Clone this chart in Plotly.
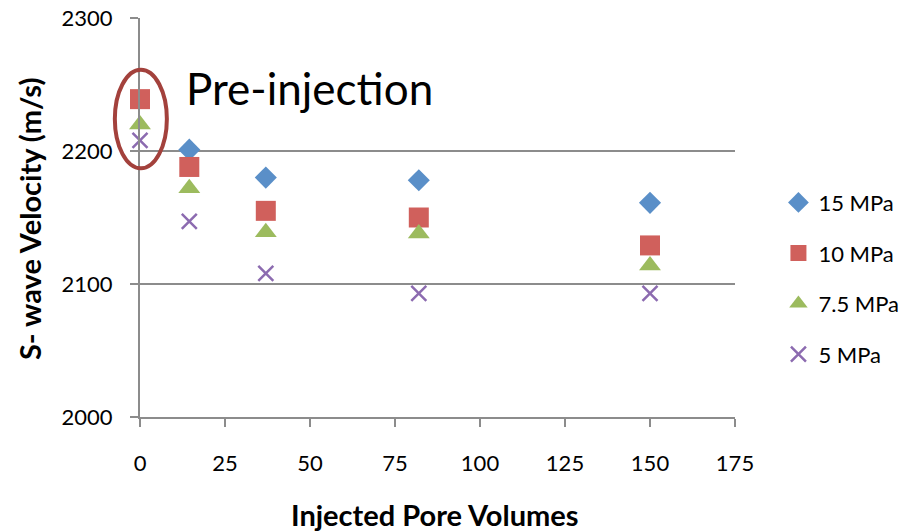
import plotly.graph_objects as go

# Injected pore volumes at each measurement
pore_volumes = [0, 14.5, 37, 82, 150]

# S-wave velocity (m/s) for each confining pressure
vs_15 = [None, 2201, 2180, 2178, 2161]
vs_10 = [2239, 2188, 2155, 2150, 2129]
vs_7_5 = [2220, 2172, 2139, 2138, 2114]
vs_5 = [2208, 2147, 2108, 2093, 2093]

series_names = ["15 MPa", "10 MPa", "7.5 MPa", "5 MPa"]
series_values = [vs_15, vs_10, vs_7_5, vs_5]
series_colors = ["#5A8FC8", "#D0605C", "#9CBB5E", "#8C6BB0"]
series_symbols = ["diamond", "square", "triangle-up", "x-thin"]
series_sizes = [17, 20, 19, 15]

x_range = [0, 175]
y_range = [2000, 2300]
x_ticks = [0, 25, 50, 75, 100, 125, 150, 175]
y_ticks = [2000, 2100, 2200, 2300]

# Highlight around the pre-injection readings (data coordinates)
ring_x = [-7.4, 7.9]
ring_y = [2187, 2261]

font_family = "Lato, 'Open Sans', Arial, sans-serif"

fig = go.Figure()
for i, (name, vals, color, sym, size) in enumerate(
        zip(series_names, series_values, series_colors, series_symbols, series_sizes)):
    xs = [x for x, v in zip(pore_volumes, vals) if v is not None]
    ys = [v for v in vals if v is not None]
    marker = dict(symbol=sym, size=size, color=color)
    if sym == "x-thin":
        marker["line"] = dict(color=color, width=2.5)
    else:
        marker["line"] = dict(width=0)
    fig.add_trace(go.Scatter(
        x=xs, y=ys, mode="markers", name=name, marker=marker,
        cliponaxis=False, legendgroup=f"g{i}",
    ))

def to_frac(v, rng):
    return (v - rng[0]) / (rng[1] - rng[0])

fig.add_shape(
    type="circle", xref="paper", yref="paper",
    x0=to_frac(ring_x[0], x_range), x1=to_frac(ring_x[1], x_range),
    y0=to_frac(ring_y[0], y_range), y1=to_frac(ring_y[1], y_range),
    line=dict(color="#A3413C", width=4), layer="above",
)

fig.add_annotation(
    text="Pre-injection", xref="paper", yref="paper",
    x=to_frac(13, x_range), y=to_frac(2247, y_range),
    xanchor="left", yanchor="middle", showarrow=False,
    font=dict(size=44, color="#000000", family=font_family),
)

# Axis titles
title_font = dict(size=29, color="#000000", family=font_family)
fig.add_annotation(
    text="<b>Injected Pore Volumes</b>", xref="paper", yref="paper",
    x=0.4965, y=-0.2456, xanchor="center", yanchor="middle",
    showarrow=False, font=title_font,
)
fig.add_annotation(
    text="<b>S- wave Velocity (m/s)</b>", xref="paper", yref="paper",
    x=-0.1866, y=0.496, xanchor="center", yanchor="middle",
    textangle=-90, showarrow=False, font=title_font,
)

axis_common = dict(
    showline=True, linecolor="#8C8C8C", linewidth=2,
    ticks="outside", tickcolor="#8C8C8C", ticklen=8, tickwidth=2,
    tickfont=dict(size=22, color="#000000", family=font_family),
    zeroline=False, automargin=False,
)

fig.update_layout(
    width=908, height=532,
    margin=dict(l=140, r=173, t=18, b=115, autoexpand=False),
    paper_bgcolor="white", plot_bgcolor="white",
    showlegend=True,
    legend=dict(
        x=1.073, y=0.59, xanchor="left", yanchor="top",
        font=dict(size=22, color="#000000", family=font_family),
        tracegroupgap=19, bgcolor="rgba(0,0,0,0)",
        itemwidth=30,
    ),
    xaxis=dict(
        range=x_range, tickvals=x_ticks, showgrid=False,
        ticklabelstandoff=18,
        **axis_common,
    ),
    yaxis=dict(
        range=y_range, tickvals=y_ticks,
        showgrid=True, gridcolor="#8C8C8C", gridwidth=2,
        ticklabelstandoff=13,
        **axis_common,
    ),
)

fig.write_html("out.html")
